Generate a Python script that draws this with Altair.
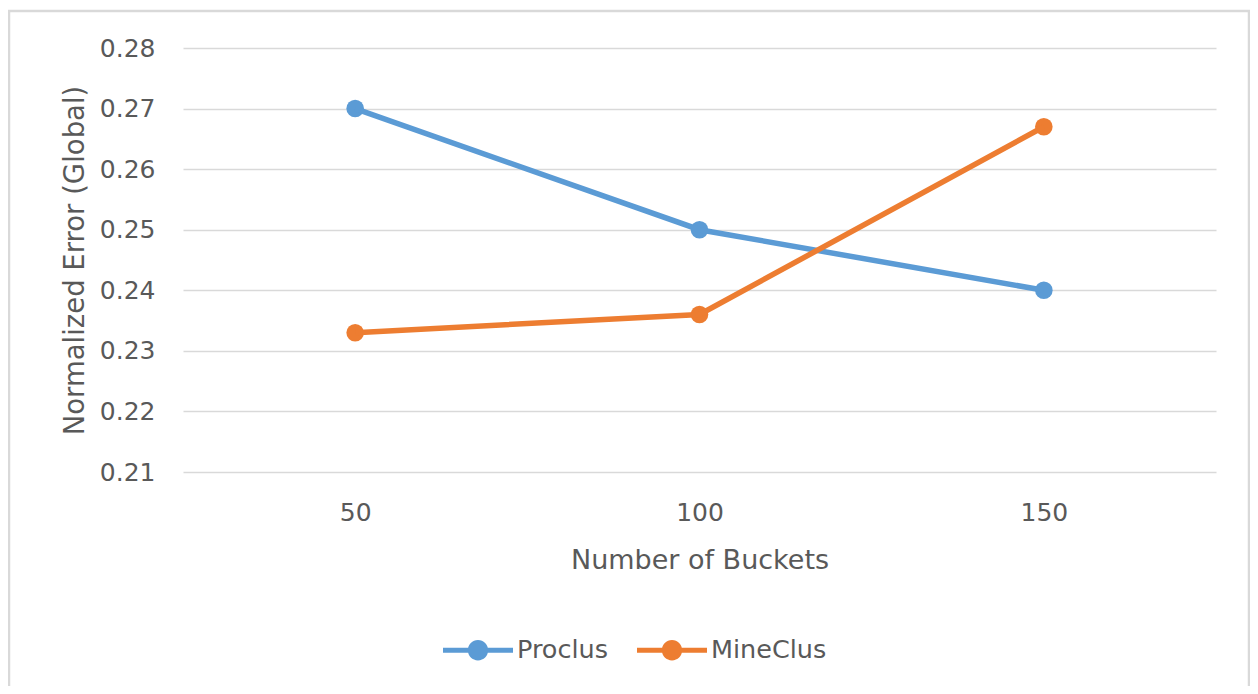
import altair as alt
import pandas as pd

buckets = ["50", "100", "150"]
proclus = [0.27, 0.25, 0.24]
mineclus = [0.233, 0.236, 0.267]
series_names = ["Proclus", "MineClus"]
series_colors = ["#5B9BD5", "#ED7D31"]
y_ticks = [0.21, 0.22, 0.23, 0.24, 0.25, 0.26, 0.27, 0.28]

rows = []
for name, vals in zip(series_names, [proclus, mineclus]):
    for b, v in zip(buckets, vals):
        rows.append({"Buckets": b, "Error": v, "Series": name})
df = pd.DataFrame(rows)

FONT = "DejaVu Sans"
TXT = "#595959"
W, H = 1033, 424

legend_path = ("M-1,-0.07 L1,-0.07 L1,0.07 L-1,0.07 Z "
               "M0.29,0 A0.29,0.29 0 1,1 -0.29,0 A0.29,0.29 0 1,1 0.29,0 Z")

x_enc = alt.X("Buckets:N", sort=buckets,
              scale=alt.Scale(type="point", padding=0.5),
              axis=alt.Axis(title="Number of Buckets", labelAngle=0, ticks=False,
                            domain=False, grid=False, labelFontSize=25,
                            labelColor=TXT, labelFont=FONT, labelPadding=28,
                            titleFontSize=27, titleFont=FONT, titleColor=TXT,
                            titleFontWeight="normal", titleY=88,
                            titleBaseline="middle"))
y_enc = alt.Y("Error:Q",
              scale=alt.Scale(domain=[0.21, 0.28], nice=False, zero=False),
              axis=alt.Axis(title="Normalized Error (Global)", values=y_ticks,
                            format=".2f", ticks=False, domain=False, grid=True,
                            gridColor="#d9d9d9", gridWidth=1.5,
                            labelFontSize=25, labelColor=TXT, labelFont=FONT,
                            labelPadding=28, titleFontSize=27.5, titleFont=FONT,
                            titleColor=TXT, titleFontWeight="normal",
                            titleX=-108, titleY=H / 2, titleAngle=270,
                            titleAlign="center", titleBaseline="middle"))
color_scale = alt.Scale(domain=series_names, range=series_colors)

points = alt.Chart(df).mark_circle(size=310, opacity=1).encode(
    x=x_enc, y=y_enc,
    color=alt.Color("Series:N", scale=color_scale, sort=series_names,
                    legend=alt.Legend(title=None, orient="none", direction="horizontal",
                                      legendX=260, legendY=567,
                                      symbolType=legend_path, symbolSize=4900,
                                      symbolOpacity=1, symbolStrokeWidth=0,
                                      labelFontSize=25.5, labelFont=FONT,
                                      labelColor=TXT, labelOffset=4,
                                      columnPadding=28)),
)
lines = alt.Chart(df).mark_line(strokeWidth=5.5).encode(
    x=x_enc, y=y_enc,
    color=alt.Color("Series:N", scale=color_scale, sort=series_names, legend=None),
    detail="Series:N",
)

border = alt.Chart(pd.DataFrame({"a": [0]})).mark_rect(
    filled=False, stroke="#d9d9d9", strokeWidth=2.5, clip=False
).encode(x=alt.value(-174), x2=alt.value(1066), y=alt.value(-37), y2=alt.value(700))

chart = alt.layer(border, points, lines).properties(
    width=W, height=H,
    background="white",
    autosize=alt.AutoSizeParams(type="none"),
    padding={"left": 175, "top": 40, "right": 34, "bottom": 214},
).configure_view(stroke=None)

chart.save("out.html", embed_options={"renderer": "svg", "actions": False})
